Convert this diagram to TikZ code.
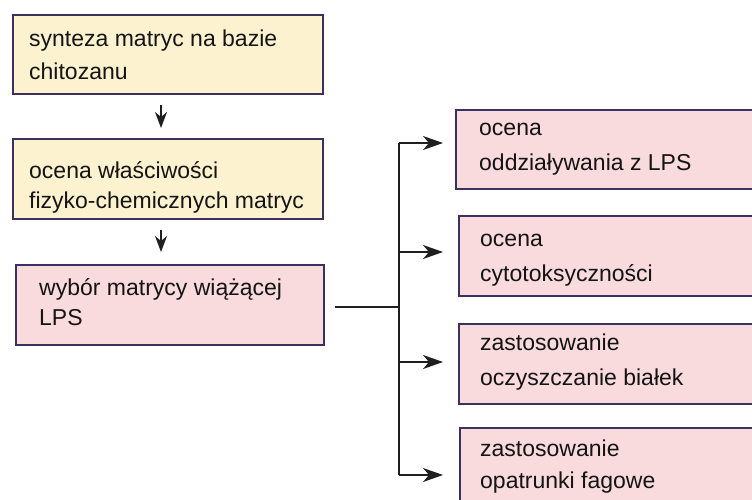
\documentclass[tikz,border=0pt]{standalone}
\usepackage{fontspec}
\setmainfont{Liberation Sans}
\usetikzlibrary{arrows.meta}
\definecolor{boxline}{HTML}{3A3062}
\definecolor{yel}{HTML}{FDF2D0}
\definecolor{pnk}{HTML}{F9DADD}
\begin{document}
\begin{tikzpicture}[x=1pt,y=-1pt,
  box/.style={draw=boxline, line width=1.8pt, anchor=north west, inner sep=0pt},
  ybox/.style={box, fill=yel},
  pbox/.style={box, fill=pnk},
  txt/.style={anchor=base west, inner sep=0pt, font=\fontsize{23}{27}\selectfont, text=black!92},
  conn/.style={line width=1.6pt, draw=black!88},
  downarr/.style={conn, -{Stealth[length=16pt,width=12pt,inset=5pt]}},
  rightarr/.style={conn, -{Stealth[length=20pt,width=14pt,inset=6pt]}}]
\useasboundingbox (0,0) rectangle (752,500);
% left boxes
\node[ybox, minimum width=310pt, minimum height=79pt] (b1) at (12,14) {};
\node[ybox, minimum width=310pt, minimum height=80pt] (b2) at (12,138) {};
\node[pbox, minimum width=308pt, minimum height=80pt] (b3) at (15,264) {};
% right boxes
\node[pbox, minimum width=310pt, minimum height=79pt] (r1) at (455,109) {};
\node[pbox, minimum width=310pt, minimum height=80pt] (r2) at (458,215) {};
\node[pbox, minimum width=310pt, minimum height=80pt] (r3) at (458,323) {};
\node[pbox, minimum width=310pt, minimum height=90pt] (r4) at (459,427) {};
% texts
\node[txt] (t1a) at (29,47) {synteza matryc na bazie};
\node[txt] (t1b) at (29,80) {chitozanu};
\node[txt] (t2a) at (29,178) {ocena właściwości};
\node[txt] (t2b) at (29,208) {fizyko-chemicznych matryc};
\node[txt] (t3a) at (39,295) {wybór matrycy wiążącej};
\node[txt] (t3b) at (39,325) {LPS};
\node[txt] (u1a) at (479,135.5) {ocena};
\node[txt] (u1b) at (479,170.5) {oddziaływania z LPS};
\node[txt] (u2a) at (480,246.5) {ocena};
\node[txt] (u2b) at (480,281.5) {cytotoksyczności};
\node[txt] (u3a) at (480,350) {zastosowanie};
\node[txt] (u3b) at (480,385) {oczyszczanie białek};
\node[txt] (u4a) at (480,456.5) {zastosowanie};
\node[txt] (u4b) at (480,488) {opatrunki fagowe};
% vertical arrows
\coordinate (ax) at (161,0);
\draw[downarr, shorten <=10pt, shorten >=10pt] (ax |- b1.south) -- (ax |- b2.north);
\draw[downarr, shorten <=10pt, shorten >=12pt] (ax |- b2.south) -- (ax |- b3.north);
% branch
\coordinate (hs) at (335,307);
\coordinate (j) at (399,307);
\coordinate (a1) at (443,143);
\coordinate (a2) at (443,252);
\coordinate (a3) at (443,362);
\coordinate (a4) at (443,475);
\draw[conn] (hs) -- (j);
\draw[conn] (j |- a1) -- (j |- a4);
\draw[rightarr] (j |- a1) -- (a1);
\draw[rightarr] (j |- a2) -- (a2);
\draw[rightarr] (j |- a3) -- (a3);
\draw[rightarr] (j |- a4) -- (a4);
\end{tikzpicture}
\end{document}
